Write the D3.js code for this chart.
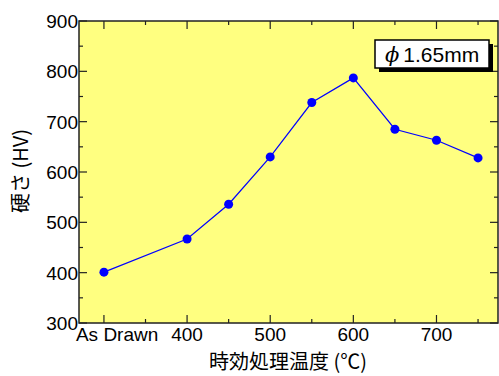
<!DOCTYPE html>
<html><head><meta charset="utf-8">
<script src="https://cdn.jsdelivr.net/npm/d3@7"></script>
<style>body{margin:0;background:#fff}svg{display:block}</style>
</head><body><svg id="c" width="499" height="376"></svg>
<script>
const temps = [300, 400, 450, 500, 550, 600, 650, 700, 750];
const hardness = [401, 467, 536, 630, 738, 787, 685, 663, 628];
const xTickValues = [300, 400, 500, 600, 700];
const xTickLabels = ["As Drawn", "400", "500", "600", "700"];
const yTickValues = [300, 400, 500, 600, 700, 800, 900];
const legendText = "1.65mm";

const svg = d3.select("#c");
const L = 79, R = 498, T = 21, B = 323;
const x = d3.scaleLinear().domain([270, 774]).range([L, R]);
const y = d3.scaleLinear().domain([300, 900]).range([B, T]);
const font = "'Liberation Sans', Arial, sans-serif";
const cjk = "'Noto Sans CJK JP', 'Liberation Sans', sans-serif";

svg.append("rect").attr("x", L).attr("y", T).attr("width", R - L).attr("height", B - T).attr("fill", "#ffff80");

const g = svg.append("g");
const xMajor = d3.range(300, 751, 100), xMinor = d3.range(350, 751, 100);
const yMajor = d3.range(300, 901, 100), yMinor = d3.range(350, 901, 100);
function tk(x1, y1, x2, y2) { g.append("line").attr("x1", x1).attr("y1", y1).attr("x2", x2).attr("y2", y2).attr("stroke", "#222").attr("stroke-width", 1.2); }
xMajor.forEach(v => { tk(x(v), B, x(v), B - 8); tk(x(v), T, x(v), T + 8); });
xMinor.forEach(v => { tk(x(v), B, x(v), B - 4); tk(x(v), T, x(v), T + 4); });
yMajor.forEach(v => { tk(L, y(v), L + 8, y(v)); tk(R, y(v), R - 8, y(v)); });
yMinor.forEach(v => { tk(L, y(v), L + 4, y(v)); tk(R, y(v), R - 4, y(v)); });

svg.append("rect").attr("x", L).attr("y", T).attr("width", R - L).attr("height", B - T).attr("fill", "none").attr("stroke", "#222").attr("stroke-width", 1.5);

yTickValues.forEach(v => {
  svg.append("text").attr("x", L - 1).attr("y", y(v) + 7).attr("text-anchor", "end")
    .attr("font-family", font).attr("font-size", 19).attr("fill", "#000").text(v);
});
xTickValues.forEach((v, i) => {
  const t = svg.append("text").attr("y", 341).attr("font-family", font).attr("font-size", 19).attr("fill", "#000").text(xTickLabels[i]);
  if (i === 0) t.attr("x", x(v) - 28).attr("text-anchor", "start");
  else t.attr("x", x(v)).attr("text-anchor", "middle");
});

svg.append("text").attr("x", 288).attr("y", 369).attr("text-anchor", "middle")
  .attr("font-family", cjk).attr("font-size", 20).attr("fill", "#000").text("時効処理温度 (℃)");
svg.append("text").attr("transform", "translate(28,171) rotate(-90)").attr("text-anchor", "middle")
  .attr("font-family", cjk).attr("font-size", 20).attr("fill", "#000").text("硬さ (HV)");

const line = d3.line().x((d, i) => x(temps[i])).y(d => y(d));
svg.append("path").datum(hardness).attr("d", line).attr("fill", "none").attr("stroke", "#0000ff").attr("stroke-width", 1.2);
svg.selectAll("circle.pt").data(hardness).join("circle").attr("class", "pt")
  .attr("cx", (d, i) => x(temps[i])).attr("cy", d => y(d)).attr("r", 4.5).attr("fill", "#0000ff");

const lx = 375, ly = 40, lw = 114, lh = 28;
svg.append("rect").attr("x", lx + 4).attr("y", ly + 4).attr("width", lw).attr("height", lh).attr("fill", "#000");
svg.append("rect").attr("x", lx).attr("y", ly).attr("width", lw).attr("height", lh).attr("fill", "#fff").attr("stroke", "#000").attr("stroke-width", 1.5);
const lt = svg.append("text").attr("x", lx + 10).attr("y", ly + 22).attr("font-family", font).attr("font-size", 21).attr("fill", "#000");
lt.append("tspan").attr("font-style", "italic").attr("font-family", "'DejaVu Serif', serif").text("ϕ");
lt.append("tspan").attr("dx", 4).text(legendText);
</script></body></html>
